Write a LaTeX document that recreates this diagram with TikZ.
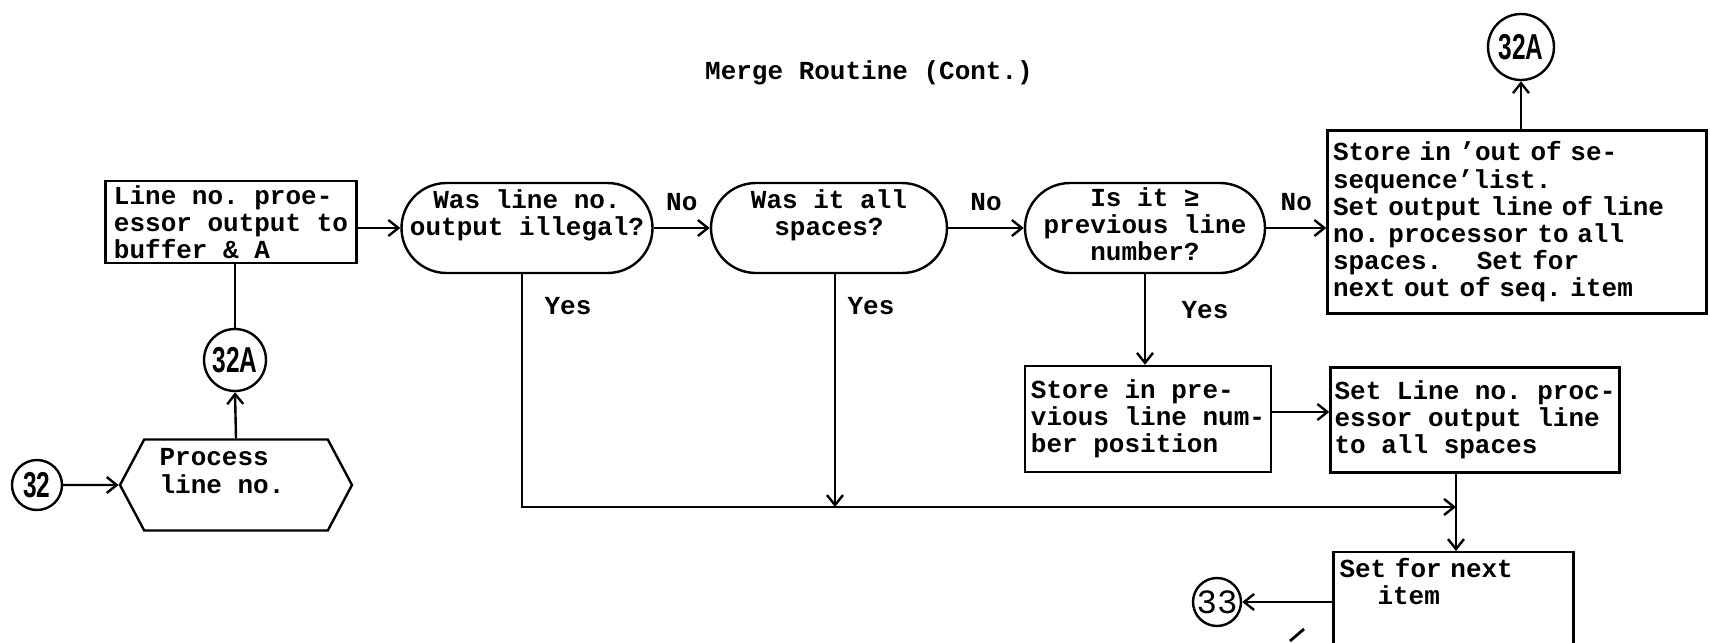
\documentclass[tikz,border=0pt]{standalone}
\usepackage{fontspec}
\setmainfont{Liberation Mono}[WordSpace={1,0,0}]
\newfontfamily\circfont[FakeStretch=0.68]{Liberation Sans}
\usepackage{tikz}
\usetikzlibrary{shapes.misc,shapes.symbols,arrows.meta}

\newcommand{\tw}{\fontsize{13}{13.6}\selectfont\bfseries\frenchspacing}

\begin{document}
\begin{tikzpicture}[x=0.5pt, y=-0.5pt,
    proc/.style={rectangle, draw, line width=1.2pt, align=left, inner sep=2pt, font=\tw},
    term/.style={rounded rectangle, draw, line width=1.2pt, inner sep=0pt, minimum height=45pt},
    hexa/.style={signal, signal to=west and east, signal pointer angle=124, draw, line width=1.2pt, align=left, font=\tw},
    conn/.style={circle, draw, line width=1.2pt, inner sep=0pt, font=\circfont\bfseries\fontsize{18}{18}\selectfont},
    arr/.style={-{Straight Barb[length=5pt, width=8pt]}, line width=1.2pt},
    lbl/.style={font=\tw, align=center, inner sep=0pt},
  ]
    \useasboundingbox (0,0) rectangle (1710,643);
    \clip (0,0) rectangle (1710,643);

    \node[lbl] (ttl) at (869,73) {Merge Routine (Cont.)};

    % Entry and input
    \node[conn, minimum size=25pt] (c32) at (37,485) {32};
    \node[hexa, minimum width=116pt, minimum height=45.5pt, text depth=14pt] (hex) at (236,485) {Process\\line no.\hspace*{14pt}};
    \node[conn, minimum size=31pt] (c32Aa) at (235,360) {32A};
    \node[proc, minimum width=125.5pt, minimum height=37.5pt] (bufA) at (231,222) {Line no. proe-\\essor output to\\buffer \& A};

    % Decisions
    \node[term, minimum width=125.5pt] (T1) at (527,228) {};
    \node[lbl] (T1t) at ([yshift=6.5pt]T1.center) {Was line no.\\output illegal?};
    \node[term, minimum width=118pt] (T2) at (829,228) {};
    \node[lbl] (T2t) at ([yshift=6.5pt]T2.center) {Was it all\\spaces?};
    \node[term, minimum width=120pt] (T3) at (1145,228) {};
    \node[lbl] (T3t) at ([yshift=2pt]T3.center) {Is it ≥\\previous line\\number?};

    % Out of sequence
    \node[proc, minimum width=189.5pt, minimum height=91.5pt, text width=184pt] (oos) at (1517,222) {Store in 'out of se-\\sequence'list.\\Set output line of line\\no. processor to all\\spaces.\ \ \ \ Set for\\next out of seq. item};
    \node[conn, minimum size=33pt] (c32Ab) at (1521,47) {32A};

    % In sequence
    \node[proc, minimum width=123pt, minimum height=53pt] (prevLn) at (1148,419) {Store in pre-\\vious line num-\\ber position};
    \node[proc, minimum width=144.5pt, minimum height=52.5pt] (setSp) at (1475,420) {Set Line no. proc-\\essor output line\\to all spaces};
    \node[proc, anchor=north, text width=114pt, text depth=75pt, inner sep=3pt] (nextIt) at (1453.5,551) {Set for next\\\hspace*{19pt}item};
    \node[conn, minimum size=24pt, font=\fontsize{17}{17}\selectfont] (c33) at (1217,602) {33};
    \coordinate (mrg) at (1456,507);

    % Transitions
    \draw[arr] (c32) -- (hex);
    \draw[arr] (hex.north) -- (c32Aa.south);
    \draw[line width=1.2pt] (c32Aa.north) -- (c32Aa.north |- bufA.south);
    \draw[arr] (bufA.east |- T1.west) -- (T1.west);
    \draw[arr] (T1.east) -- node[lbl, above=8pt] {No} (T2.west);
    \draw[arr] (T2.east) -- node[lbl, above=8pt] {No} (T3.west);
    \draw[arr] (T3.east) -- node[lbl, above=8pt] {No} (T3.east -| oos.west);
    \draw[arr] (c32Ab.south |- oos.north) -- (c32Ab.south);
    \draw[arr] (T3.south) -- (T3.south |- prevLn.north);
    \draw[arr] ([yshift=3.5pt]prevLn.east) -- ([yshift=3.5pt]prevLn.east -| setSp.west);
    \draw[arr] (mrg |- setSp.south) -- (mrg |- nextIt.north);
    \draw[arr] ([xshift=-2.5pt]T1.south) |- (mrg);
    \draw[arr] ([xshift=3pt]T2.south) -- ([xshift=3pt]T2.south |- mrg);
    \draw[arr] (nextIt.west |- c33) -- (c33);

    % Yes labels
    \node[lbl] (y1) at (568,306) {Yes};
    \node[lbl] (y2) at (871,306) {Yes};
    \node[lbl] (y3) at (1205,310) {Yes};

    % stray pen mark
    \draw[line width=1.4pt] (1290,641) -- (1304,629);

  \end{tikzpicture}
\end{document}
